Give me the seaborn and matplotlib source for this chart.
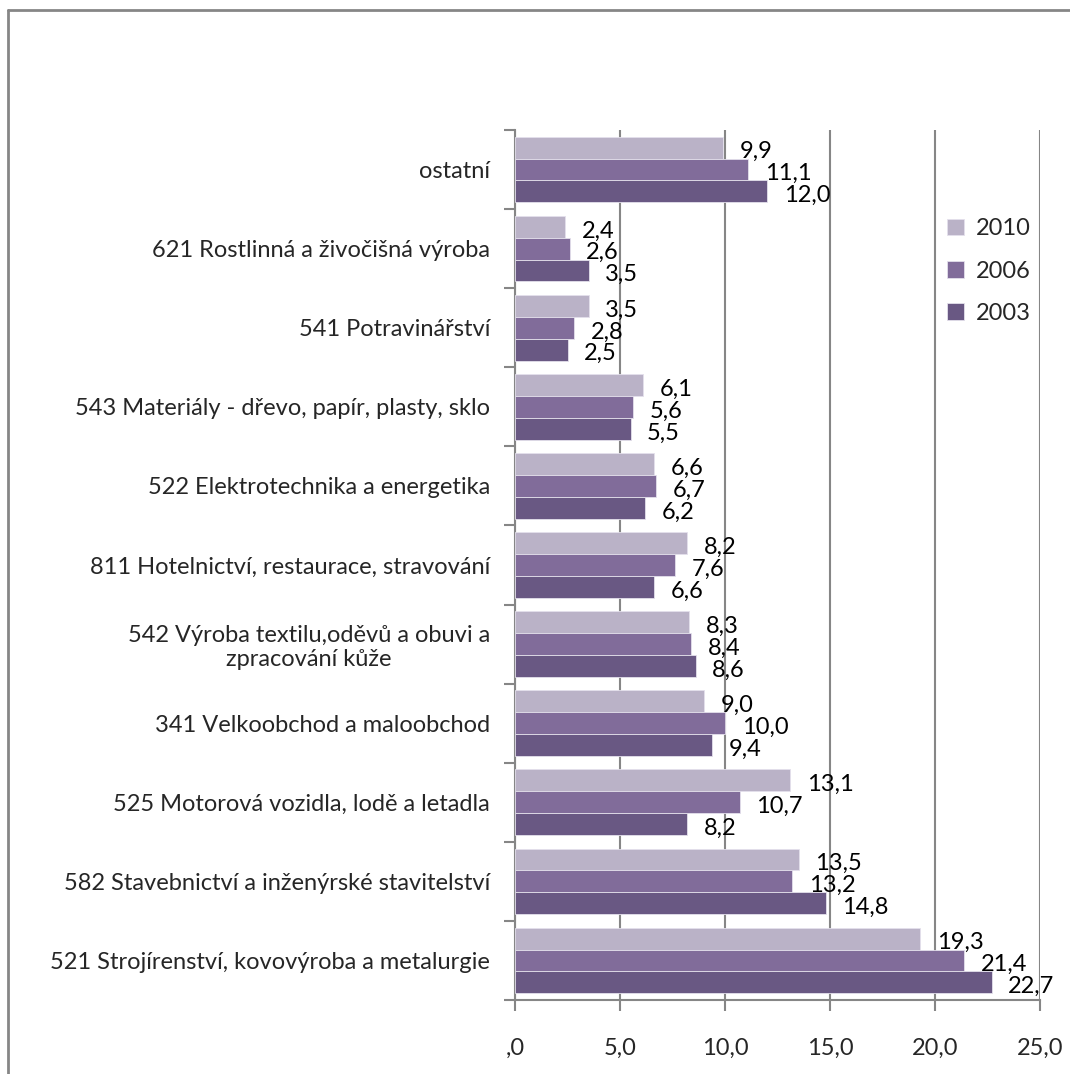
import seaborn as sns
import pandas as pd
import matplotlib
matplotlib.use("Agg")
import matplotlib.pyplot as plt
from matplotlib.lines import Line2D
from matplotlib.ticker import FixedLocator, FixedFormatter

categories = [
    "ostatní",
    "621 Rostlinná a živočišná výroba",
    "541 Potravinářství",
    "543 Materiály - dřevo, papír, plasty, sklo",
    "522 Elektrotechnika a energetika",
    "811 Hotelnictví, restaurace, stravování",
    "542 Výroba textilu,oděvů a obuvi a\nzpracování kůže",
    "341 Velkoobchod a maloobchod",
    "525 Motorová vozidla, lodě a letadla",
    "582 Stavebnictví a inženýrské stavitelství",
    "521 Strojírenství, kovovýroba a metalurgie",
]
years = ["2010", "2006", "2003"]
v2010 = [9.9, 2.4, 3.5, 6.1, 6.6, 8.2, 8.3, 9.0, 13.1, 13.5, 19.3]
v2006 = [11.1, 2.6, 2.8, 5.6, 6.7, 7.6, 8.4, 10.0, 10.7, 13.2, 21.4]
v2003 = [12.0, 3.5, 2.5, 5.5, 6.2, 6.6, 8.6, 9.4, 8.2, 14.8, 22.7]
x_ticks = [0, 5, 10, 15, 20, 25]
x_tick_labels = [",0", "5,0", "10,0", "15,0", "20,0", "25,0"]

colors = ["#b9aeca", "#8064a2", "#68518a"]
grey = "#868686"
fs = 17

rows = []
for year, vals in zip(years, [v2010, v2006, v2003]):
    for c, v in zip(categories, vals):
        rows.append({"cat": c, "year": year, "value": v})
df = pd.DataFrame(rows)

sns.set_style("white")
plt.rcParams["font.family"] = ["Lato", "DejaVu Sans"]

fig = plt.figure(figsize=(10.7, 10.74), dpi=100)
ax = fig.add_axes([515 / 1070, 1 - 1000 / 1074, (1040 - 515) / 1070, 870 / 1074])

sns.barplot(data=df, y="cat", x="value", hue="year", order=categories,
            hue_order=years, palette=colors, orient="h", width=0.83,
            edgecolor="#e4e0ec", linewidth=0.6, ax=ax, zorder=3)

ax.set_xlim(0, 25)
ax.set_ylim(len(categories) - 0.5, -0.5)
ax.xaxis.set_major_locator(FixedLocator(x_ticks))
ax.xaxis.set_major_formatter(FixedFormatter(x_tick_labels))
ax.grid(axis="x", color=grey, lw=1.5, zorder=0)
ax.set_xlabel("")
ax.set_ylabel("")

for s in ["top", "right"]:
    ax.spines[s].set_visible(False)
for s in ["left", "bottom"]:
    ax.spines[s].set_color(grey)
    ax.spines[s].set_linewidth(1.5)

ax.tick_params(axis="x", which="major", direction="out", length=8, width=1.5,
               color=grey, labelsize=fs, pad=19, bottom=True)
ax.tick_params(axis="y", which="major", length=0, labelsize=fs, pad=18)
ax.yaxis.set_minor_locator(FixedLocator([i - 0.5 for i in range(len(categories) + 1)]))
ax.tick_params(axis="y", which="minor", direction="out", length=8, width=1.5,
               color=grey, left=True)
for t in ax.get_yticklabels():
    t.set_multialignment("center")

for cont, vals in zip(ax.containers, [v2010, v2006, v2003]):
    anns = ax.bar_label(cont, labels=[f"{v:.1f}".replace(".", ",") for v in vals],
                        padding=12, fontsize=fs, color="black")
    for a in anns:
        a.xyann = (12, -3)

leg = ax.legend(loc="upper left", bbox_to_anchor=(926 / 1070, 1 - 197 / 1074),
                bbox_transform=fig.transFigure, frameon=False, fontsize=fs,
                handlelength=0.7, handleheight=0.7, handletextpad=0.5,
                labelspacing=0.9)

fig.add_artist(Line2D([8 / 1070, 1.0], [1 - 10 / 1074] * 2, color=grey, lw=2,
                      transform=fig.transFigure))
fig.add_artist(Line2D([8 / 1070] * 2, [0, 1 - 10 / 1074], color=grey, lw=2,
                      transform=fig.transFigure))

fig.savefig("out.png", dpi=100)
